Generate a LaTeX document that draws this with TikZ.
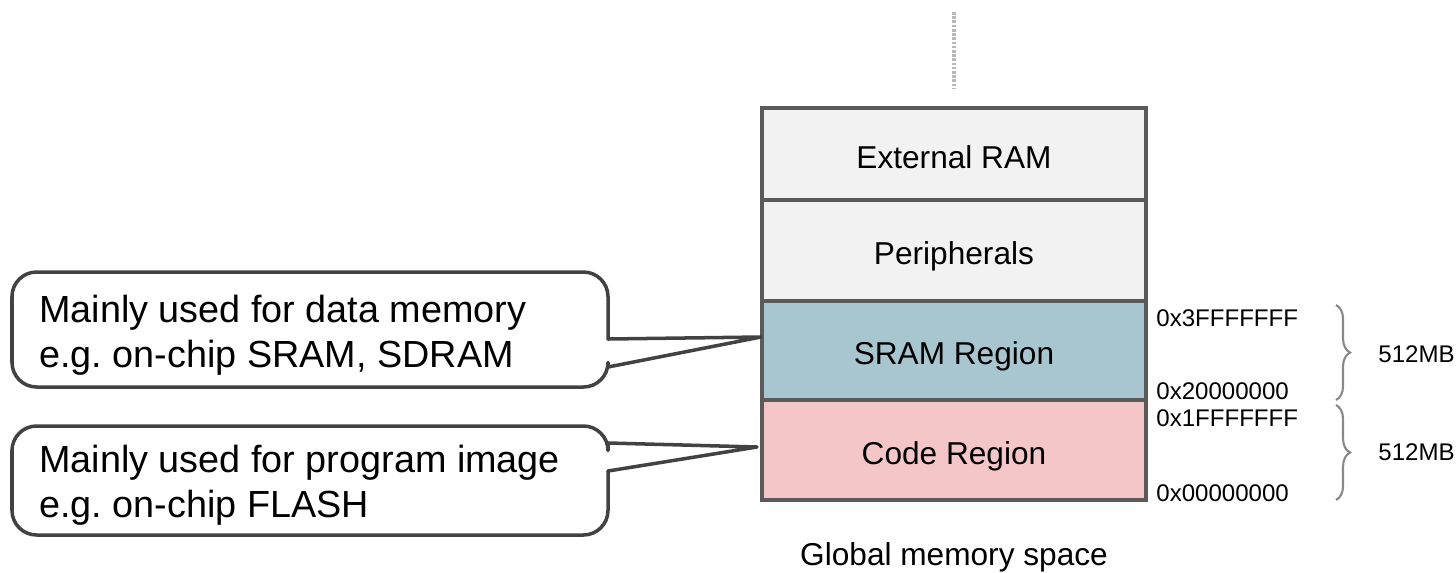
\documentclass[tikz,border=0pt]{standalone}
\usepackage{fontspec}
\setmainfont{Liberation Sans}
\usetikzlibrary{decorations.pathreplacing,calc}
\definecolor{bordergray}{HTML}{5A5A5A}
\definecolor{calloutgray}{HTML}{424242}
\definecolor{lightfill}{HTML}{F2F2F2}
\definecolor{sramfill}{HTML}{A8C6D0}
\definecolor{codefill}{HTML}{F4C6C7}
\definecolor{dotgray}{HTML}{B8B8B8}
\definecolor{bracegray}{HTML}{888888}
\begin{document}
\frenchspacing
\begin{tikzpicture}[x=0.02cm,y=-0.02cm,
  memblock/.style={draw=bordergray, line width=1.8pt, anchor=north west,
    minimum width=7.68cm, inner sep=0pt, outer sep=0pt,
    font=\fontsize{18pt}{21pt}\selectfont, text height=16.3pt, text depth=0pt},
  calloutline/.style={draw=calloutgray, line width=2pt, line join=round, line cap=round},
  callouttext/.style={anchor=north west, inner sep=0pt, align=left,
    font=\fontsize{21.5pt}{25.5pt}\selectfont},
  addr/.style={anchor=west, inner sep=0pt, font=\fontsize{13.7pt}{16pt}\selectfont},
  sizelabel/.style={anchor=west, inner sep=0pt, font=\fontsize{13.7pt}{16pt}\selectfont},
  bracestyle/.style={draw=bracegray, line width=1.2pt,
    decorate, decoration={brace, amplitude=8pt}}
]
\useasboundingbox (0,0) rectangle (1456,572);

% dotted continuation line
\coordinate (dotA) at (954,12);
\coordinate (dotB) at (954,88);
\draw[dotgray, line width=2pt, dash pattern=on 1.5pt off 0.9pt] (dotA) -- (dotB);

% memory blocks
\node[memblock, fill=lightfill, minimum height=1.84cm] (ext) at (762,108) {External RAM};
\node[memblock, fill=lightfill, minimum height=2.02cm] (per) at (762,200) {Peripherals};
\node[memblock, fill=sramfill, minimum height=1.98cm] (sram) at (762,301) {SRAM Region};
\node[memblock, fill=codefill, minimum height=2.0cm] (code) at (762,400) {Code Region};

% global label
\node[anchor=base, inner sep=0pt, font=\fontsize{18pt}{21pt}\selectfont] (glob) at (954,565) {Global memory space};

% addresses
\node[addr] (a1) at (1156,318) {0x3FFFFFFF};
\node[addr] (a2) at (1156,391) {0x20000000};
\node[addr] (a3) at (1156,418) {0x1FFFFFFF};
\node[addr] (a4) at (1156,493) {0x00000000};

% braces
\coordinate (b1t) at (1336,305);
\coordinate (b1b) at (1336,400);
\coordinate (b2t) at (1336,405);
\coordinate (b2b) at (1336,500);
\draw[bracestyle] (b1t) -- (b1b);
\draw[bracestyle] (b2t) -- (b2b);
\node[sizelabel] (s1) at (1378,354) {512MB};
\node[sizelabel] (s2) at (1378,452) {512MB};

% callout 1
\coordinate (tip1) at (761,337);
\draw[calloutline, rounded corners=14] (608,339) -- (608,272) -- (12,272) -- (12,387) -- (608,387) -- (608,367);
\draw[calloutline] (608,339) -- (tip1) -- (608,367);
\node[callouttext] (c1) at (39,294.5) {Mainly used for data memory\\e.g. on-chip SRAM, SDRAM};

% callout 2
\coordinate (tip2) at (757,447);
\draw[calloutline, rounded corners=14] (608,443) -- (608,426) -- (12,426) -- (12,535) -- (608,535) -- (608,471);
\draw[calloutline] (608,443) -- (tip2) -- (608,471);
\node[callouttext] (c2) at (39,444.5) {Mainly used for program image\\e.g. on-chip FLASH};
\end{tikzpicture}
\end{document}
